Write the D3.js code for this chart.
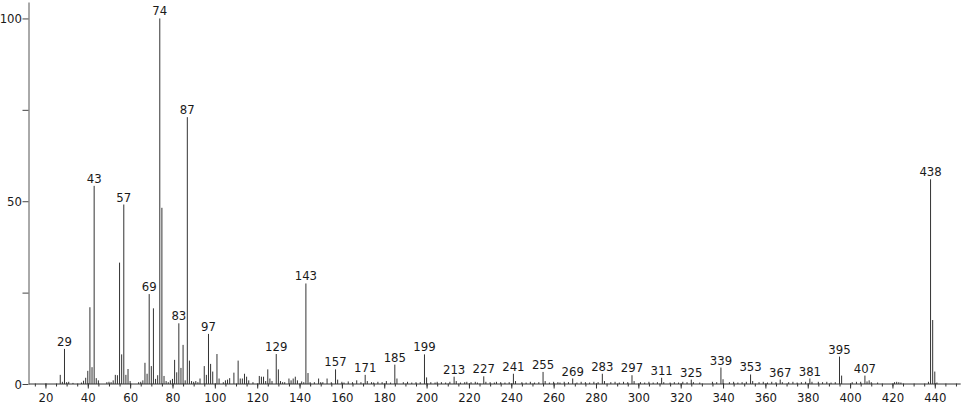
<!DOCTYPE html>
<html>
<head>
<meta charset="utf-8">
<script src="https://cdn.jsdelivr.net/npm/d3@7"></script>
<style>
  body { margin: 0; background: #fff; }
  text { font-family: "Liberation Sans Narrow", "Arial Narrow", "DejaVu Sans Condensed", sans-serif; font-size: 13px; fill: #1a1a1a; }
</style>
</head>
<body>
<div id="chart"></div>
<script>
// m/z of every peak and its relative intensity (%)
const mz = [
  27, 28, 29, 30, 31, 33, 37, 38, 39, 40, 41, 42, 43, 44, 45, 49, 50, 51, 52, 53, 54, 55, 56, 57, 58, 59, 60,
  64, 65, 66, 67, 68, 69, 70, 71, 72, 73, 74, 75, 76, 77, 78, 79, 80, 81, 82, 83, 84, 85, 86, 87, 88, 89, 90, 91, 92, 93,
  95, 96, 97, 98, 99, 101, 102, 104, 105, 106, 107, 109, 111, 112, 113, 114, 115, 116, 118, 121, 122, 123, 124, 125, 126, 127,
  129, 130, 131, 132, 133, 135, 136, 137, 138, 139, 141, 142, 143, 144, 145, 147, 149, 150, 151, 153, 155, 157, 158,
  160, 161, 163, 165, 167, 169, 171, 172, 174, 175, 177, 179, 181, 183, 185, 186, 189, 191, 193, 195, 197, 199, 200,
  202, 204, 205, 207, 209, 211, 213, 214, 216, 218, 219, 221, 223, 224, 227, 228, 230, 232, 233, 235, 237, 239, 241, 242,
  245, 247, 249, 251, 253, 255, 256, 258, 260, 262, 263, 265, 267, 269, 271, 273, 275, 277, 279, 281, 283, 284,
  287, 289, 291, 293, 295, 297, 298, 301, 303, 305, 307, 309, 311, 312, 315, 317, 319, 321, 323, 325, 326, 329,
  335, 337, 339, 340, 343, 345, 347, 349, 351, 353, 354, 357, 359, 361, 363, 365, 367, 368, 371, 373, 375, 377, 379, 381, 382,
  385, 387, 389, 391, 393, 395, 396, 401, 403, 405, 407, 408, 409, 410, 413, 421, 422, 423, 424, 437, 438, 439, 440, 441
];
const intensity = [
  2.5, 0.6, 9.6, 0.5, 0.6, 0.3, 0.4, 0.9, 1.7, 3.6, 21, 4.6, 54.2, 1.6, 1, 0.5, 0.6, 0.5, 1, 2.5, 2.4, 33.2, 8.1, 49.1, 2.5, 4.1, 0.8,
  0.5, 0.6, 1, 5.8, 2.8, 24.6, 4.9, 20.7, 1.4, 2.4, 100, 48.2, 2.2, 0.8, 0.5, 1, 1.4, 6.6, 3.2, 16.6, 4.4, 10.7, 1, 73, 6.4, 0.8, 0.6, 0.8, 0.5, 1.5,
  4.9, 2.5, 13.7, 5.5, 3.4, 8.2, 1.5, 0.5, 1, 1.2, 1.6, 3.1, 6.4, 1.5, 1.5, 2.8, 2, 1, 0.5, 2.2, 2, 2, 0.8, 4, 1.5, 0.8,
  8.2, 4, 0.8, 0.5, 0.5, 1.5, 1, 1.5, 2, 1, 0.7, 0.5, 27.5, 3, 0.5, 0.5, 1.5, 0.5, 0.5, 1.5, 0.5, 4, 1.2,
  0.6, 0.4, 0.7, 0.5, 1, 0.5, 2.5, 0.8, 0.5, 0.4, 0.6, 0.5, 0.8, 0.4, 5.3, 1.5, 0.5, 0.6, 0.4, 0.5, 0.5, 8.1, 1.8,
  0.5, 0.4, 0.6, 0.5, 0.4, 0.6, 2, 0.8, 0.4, 0.5, 0.6, 0.5, 0.6, 0.4, 2.1, 0.6, 0.5, 0.4, 0.6, 0.5, 0.4, 0.5, 2.8, 0.8,
  0.5, 0.4, 0.6, 0.4, 0.5, 3.3, 0.8, 0.4, 0.6, 0.5, 0.4, 0.6, 0.5, 1.5, 0.4, 0.6, 0.5, 0.4, 0.6, 0.5, 2.8, 0.8,
  0.5, 0.6, 0.4, 0.6, 0.5, 2.4, 0.8, 0.5, 0.4, 0.6, 0.4, 0.5, 1.7, 0.5, 0.4, 0.5, 0.4, 0.6, 0.5, 1.2, 0.5, 0.4,
  0.6, 0.5, 4.5, 1.3, 0.5, 0.6, 0.4, 0.5, 0.6, 2.6, 0.8, 0.5, 0.6, 0.4, 0.6, 0.5, 1.2, 0.5, 0.5, 0.6, 0.4, 0.5, 0.6, 1.5, 0.6,
  0.6, 0.5, 0.6, 0.4, 0.5, 7.5, 2.3, 0.5, 0.6, 0.6, 2.3, 0.7, 1, 0.5, 0.4, 0.5, 0.6, 0.5, 0.4, 0.6, 56, 17.5, 3.4, 0.4
];
// peaks that carry an m/z label
const labelled = [29, 43, 57, 69, 74, 83, 87, 97, 129, 143, 157, 171, 185, 199, 213, 227, 241, 255, 269, 283, 297, 311, 325, 339, 353, 367, 381, 395, 407, 438];
const xMajor = d3.range(20, 441, 20);
const xMinor = d3.range(15, 451, 5);
const yTicks = [0, 25, 50, 75, 100];
const yLabels = [0, 50, 100];

const w = 974;
const h = 406;

const svg = d3.select("#chart").append("svg")
  .attr("width", w)
  .attr("height", h);

const x = d3.scaleLinear().domain([12, 452]).range([28.5, 960.2]);
const y = d3.scaleLinear().domain([0, 104.5]).range([384, 2]);

const peaks = mz.map((m, i) => ({ mz: m, v: intensity[i] }));

// the spectrum lines
svg.append("g")
  .selectAll("line")
  .data(peaks)
  .enter()
  .append("line")
  .attr("x1", d => x(d.mz))
  .attr("x2", d => x(d.mz))
  .attr("y1", y(0))
  .attr("y2", d => y(d.v))
  .attr("stroke", "#333")
  .attr("stroke-width", 1);

// labels above the main peaks
svg.append("g")
  .selectAll("text")
  .data(peaks.filter(d => labelled.includes(d.mz)))
  .enter()
  .append("text")
  .attr("x", d => x(d.mz))
  .attr("y", d => y(d.v) - 3)
  .attr("text-anchor", "middle")
  .text(d => d.mz);

// x axis: minor then major ticks
svg.append("g")
  .attr("transform", "translate(0,383.5)")
  .call(d3.axisBottom(x).tickValues(xMinor).tickSize(3).tickSizeOuter(0).tickFormat(""))
  .call(g => g.select(".domain").remove())
  .call(g => g.selectAll("line").attr("stroke", "#333"));

svg.append("g")
  .attr("transform", "translate(0,383.5)")
  .call(d3.axisBottom(x).tickValues(xMajor).tickSize(5).tickPadding(4).tickSizeOuter(0))
  .call(g => g.select(".domain").attr("stroke", "#333"))
  .call(g => g.selectAll("line").attr("stroke", "#333"))
  .call(g => g.selectAll("text").attr("fill", null));

// y axis
svg.append("g")
  .attr("transform", "translate(28.5,0)")
  .call(d3.axisLeft(y).tickValues(yTicks).tickSize(6).tickPadding(0.5).tickSizeOuter(0)
    .tickFormat(d => yLabels.includes(d) ? d : ""))
  .call(g => g.select(".domain").attr("stroke", "#555"))
  .call(g => g.selectAll("line").attr("stroke", "#444"))
  .call(g => g.selectAll("text").attr("fill", null));

// d3 sets font on the axis group, clear it so the css font applies
svg.selectAll("g").attr("font-family", null).attr("font-size", null);
</script>
</body>
</html>
